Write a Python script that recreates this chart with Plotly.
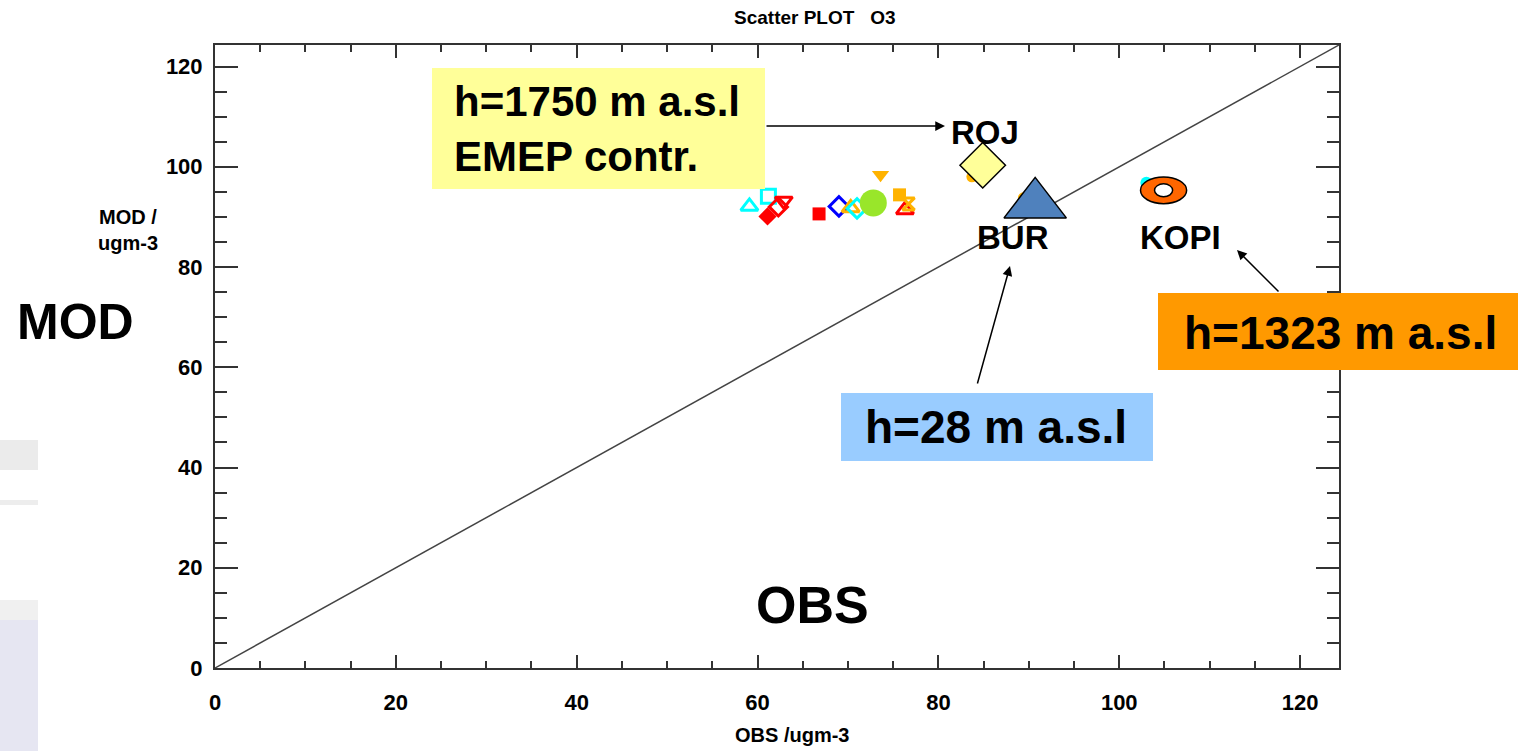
import plotly.graph_objects as go

# ---------------- data ----------------
axis_max = 124.3
x_ticks = [0, 20, 40, 60, 80, 100, 120]
y_ticks = [0, 20, 40, 60, 80, 100, 120]

# small station markers (OBS, MOD)
obs_small = [59.1, 61.2, 61.1, 62.3, 62.9, 66.8, 69.0, 70.3, 71.0, 72.8, 73.6, 75.7, 76.3, 76.7]
mod_small = [92.1, 94.1, 90.1, 92.0, 93.2, 90.6, 92.1, 91.8, 91.7, 92.8, 98.4, 94.4, 91.4, 92.6]

# partly hidden markers behind the labelled stations
obs_hidden = [83.7, 89.4, 103.0]
mod_hidden = [98.0, 93.8, 96.8]

# labelled stations
station_names = ["ROJ", "BUR", "KOPI"]
station_obs = [84.9, 90.7, 104.9]
station_mod = [100.3, 92.5, 95.3]

# ---------------- styles ----------------
CY, RD, BL, OR, GR = "#00FFFF", "#FF0000", "#0000FF", "#FFB300", "#99E62A"
small_styles = [
    ("triangle-up-open", CY, 15), ("square-open", CY, 14), ("diamond", RD, 14),
    ("diamond-open", RD, 14), ("triangle-down-open", RD, 15), ("square", RD, 13),
    ("diamond-open", BL, 15), ("triangle-up-open", OR, 15), ("diamond-open", CY, 15),
    ("circle", GR, 27), ("triangle-down", OR, 15), ("square", OR, 13),
    ("triangle-up-open", RD, 15), ("hourglass-open", OR, 12),
]
hidden_styles = [("circle", OR, 11), ("circle", OR, 11), ("circle", CY, 12)]

FONT = "Liberation Sans, Arial, sans-serif"

# plot area in pixels
L, R, T, B = 215, 1339, 45, 668
W, H = 1518, 751


def px(xp):
    return (xp - L) / (R - L)


def py(yp):
    return (B - yp) / (B - T)


fig = go.Figure()

# diagonal 1:1 line
diag = [0, axis_max]
fig.add_trace(go.Scatter(x=diag, y=diag, mode="lines",
                         line=dict(color="#444444", width=1.5), hoverinfo="skip"))

for xv, yv, (sym, col, sz) in zip(obs_hidden, mod_hidden, hidden_styles):
    fig.add_trace(go.Scatter(x=[xv], y=[yv], mode="markers",
                             marker=dict(symbol=sym, color=col, size=sz, line=dict(width=0))))

for xv, yv, (sym, col, sz) in zip(obs_small, mod_small, small_styles):
    fig.add_trace(go.Scatter(x=[xv], y=[yv], mode="markers",
                             marker=dict(symbol=sym, color=col, size=sz,
                                         line=dict(color=col, width=3 if "open" in sym else 0))))

# ROJ diamond
fig.add_trace(go.Scatter(x=[station_obs[0]], y=[station_mod[0]], mode="markers",
                         marker=dict(symbol="diamond", size=35, color="#FFFF99",
                                     line=dict(color="black", width=1.5))))
# BUR triangle
fig.add_trace(go.Scatter(x=[station_obs[1]], y=[station_mod[1]], mode="markers",
                         marker=dict(symbol="triangle-up", size=54, color="#4F81BD",
                                     line=dict(color="black", width=1.5))))

# KOPI ring (ellipses centred on data point)
kx, ky = station_obs[2], station_mod[2]
shapes = [
    dict(type="circle", xref="x", yref="y", x0=kx - 2.55, x1=kx + 2.55, y0=ky - 2.65, y1=ky + 2.65,
         fillcolor="#FF6600", line=dict(color="black", width=1.5)),
    dict(type="circle", xref="x", yref="y", x0=kx - 1.0, x1=kx + 1.0, y0=ky - 1.3, y1=ky + 1.3,
         fillcolor="white", line=dict(color="black", width=1.5)),
]

# background watermark on the left
shapes += [
    dict(type="rect", xref="paper", yref="paper", x0=px(0), x1=px(38), y0=py(751), y1=py(612),
         fillcolor="#E6E6F2", line=dict(width=0), layer="below"),
    dict(type="rect", xref="paper", yref="paper", x0=px(0), x1=px(38), y0=py(470), y1=py(440),
         fillcolor="#EBEBEB", line=dict(width=0), layer="below"),
    dict(type="rect", xref="paper", yref="paper", x0=px(0), x1=px(38), y0=py(505), y1=py(500),
         fillcolor="#EDEDED", line=dict(width=0), layer="below"),
    dict(type="rect", xref="paper", yref="paper", x0=px(0), x1=px(38), y0=py(620), y1=py(600),
         fillcolor="#F0F0F0", line=dict(width=0), layer="below"),
]

# annotation boxes (drawn over the frame, as in the original)
boxes = [((432, 68, 765, 189), "#FFFF99"),
         ((841, 393, 1153, 461), "#99CCFF"),
         ((1158, 293, 1518, 370), "#FF9900")]
for (x0, y0, x1, y1), col in boxes:
    shapes.append(dict(type="rect", xref="paper", yref="paper",
                       x0=px(x0), x1=px(x1), y0=py(y1), y1=py(y0),
                       fillcolor=col, line=dict(width=0), layer="above"))

ann = []


def text(xp, yp, s, size, xanchor="center", align="center"):
    ann.append(dict(xref="paper", yref="paper", x=px(xp), y=py(yp), text=s, showarrow=False,
                    xanchor=xanchor, yanchor="middle", align=align,
                    font=dict(family=FONT, size=size, color="black", weight="bold")))


def arrow(hx, hy, tx, ty):
    ann.append(dict(xref="paper", yref="paper", x=px(hx), y=py(hy), ax=tx - hx, ay=ty - hy,
                    axref="pixel", ayref="pixel", text="", showarrow=True,
                    arrowhead=2, arrowsize=1.3, arrowwidth=1.5, arrowcolor="black"))


text(452, 129, "h=1750 m a.s.l<br>EMEP contr.", 42, xanchor="left", align="left")
text(996, 427, "h=28 m a.s.l", 46)
text(1340, 333, "h=1323 m a.s.l", 46)
text(985, 133, station_names[0], 33)
text(1013, 237, station_names[1], 33)
text(1180, 237, station_names[2], 33)
text(75, 322, "MOD", 50)
text(812, 605, "OBS", 52)
text(815, 18, "Scatter PLOT&nbsp;&nbsp;&nbsp;O3", 19)
text(792, 735, "OBS /ugm-3", 20)
text(128, 230, "MOD /<br>ugm-3", 20)

arrow(945, 126, 765, 126)
arrow(1010, 266, 977, 385)
arrow(1237, 250, 1280, 293)

axis_common = dict(range=[0, axis_max], showgrid=False, zeroline=False,
                   showline=True, linecolor="#333333", linewidth=2, mirror="ticks",
                   ticks="inside", tickcolor="#333333", tickwidth=2,
                   tickfont=dict(family=FONT, size=22, color="black", weight="bold"))

fig.update_layout(
    width=W, height=H,
    margin=dict(l=L, r=W - R, t=T, b=H - B),
    paper_bgcolor="white", plot_bgcolor="white",
    showlegend=False,
    shapes=shapes, annotations=ann,
    xaxis=dict(**axis_common, tickvals=x_ticks, ticklen=13, ticklabelstandoff=14,
               minor=dict(dtick=5, ticks="inside", ticklen=7, tickcolor="#333333", tickwidth=2)),
    yaxis=dict(**axis_common, tickvals=y_ticks, ticklen=23, ticklabelstandoff=6,
               minor=dict(dtick=5, ticks="inside", ticklen=12, tickcolor="#333333", tickwidth=2)),
)

fig.write_html("out.html")
